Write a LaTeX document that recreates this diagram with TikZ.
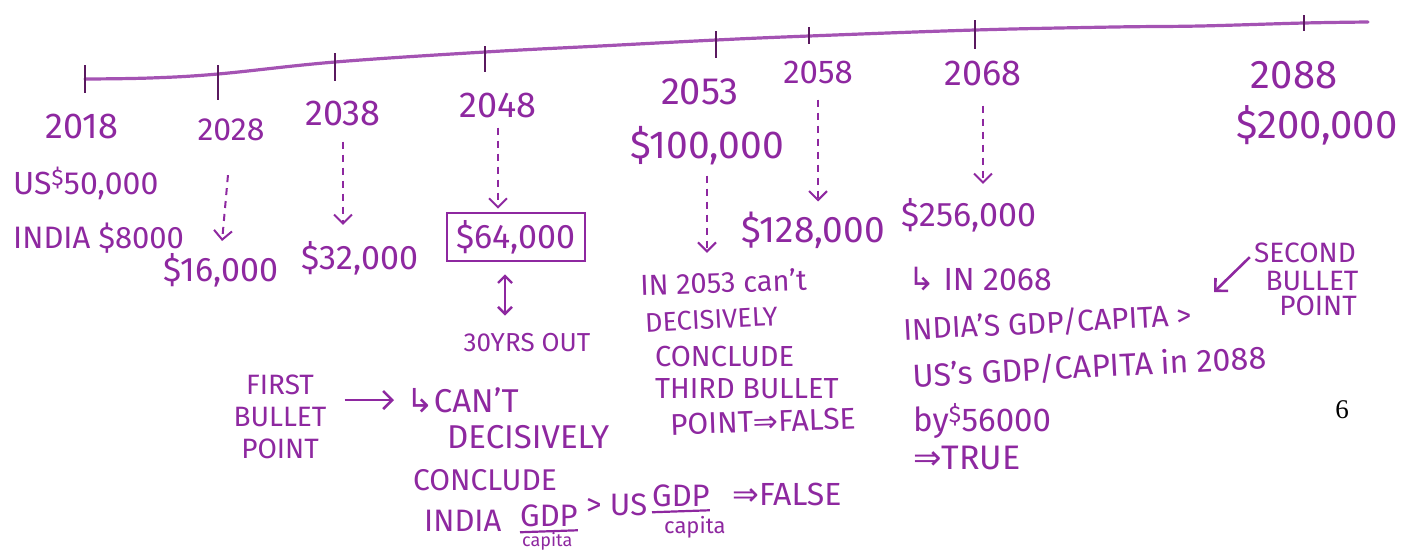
\documentclass[tikz,border=0pt]{standalone}
\usepackage{fontspec}
\setmainfont{Fira Sans}
\newfontfamily\sym{DejaVu Sans}
\newfontfamily\pgfont{Liberation Serif}
\usetikzlibrary{arrows.meta,calc}
\definecolor{ink}{RGB}{142,40,160}
\definecolor{tick}{RGB}{90,25,95}
\newcommand{\fs}[1]{\fontsize{#1}{#1}\selectfont}
\begin{document}
\begin{tikzpicture}[x=1pt,y=-1pt,
  hw/.style={text=ink,inner sep=0pt,font=\fs{31}},
  num/.style={text=ink,inner sep=0pt,font=\fs{34}},
  yr/.style={text=ink,inner sep=0pt,font=\fs{36}},
  dasharrow/.style={draw=ink,line width=2pt,dash pattern=on 7pt off 6pt,
    -{Straight Barb[length=9pt,width=18pt,line width=2pt]}},
  solidarrow/.style={draw=ink,line width=2.6pt,
    -{Straight Barb[length=9pt,width=18pt,line width=2.6pt]}},
  tickmark/.style={draw=tick,line width=2.4pt}]
\useasboundingbox (0,0) rectangle (1413,550);
% timeline
\draw[ink!80,line width=3.2pt,line cap=round] plot[smooth,tension=0.6] coordinates
  {(85,79) (150,78) (218,74) (335,62) (485,52) (600,46) (716,40) (809,36) (975,30) (1114,27) (1200,26) (1304,23) (1368,22)};
\foreach \x/\a/\b in {85/65/93, 218/65/100, 335/53/81, 485/46/72, 716/31/58, 809/27/44, 975/20/49, 1304/15/31}
  \draw[tickmark] (\x,\a) -- (\x,\b);
% years
\node[yr] (y2018) at (82,126) {2018};
\node[yr,font=\fs{32}] (y2028) at (231,130) {2028};
\node[yr] (y2038) at (343,113) {2038};
\node[yr] (y2048) at (498,105) {2048};
\node[yr,font=\fs{38}] (y2053) at (700,92) {2053};
\node[yr,font=\fs{33}] (y2058) at (818,72) {2058};
\node[yr] (y2068) at (983,73) {2068};
\node[yr,font=\fs{40}] (y2088) at (1294,75) {2088};
% values
\node[hw,anchor=west,font=\fs{32}] (us) at (13,183) {US\textsuperscript{\$}50,000};
\node[hw,anchor=west] (india) at (13,238) {INDIA \$8000};
\node[num] (v16) at (221,270) {\$16,000};
\node[num] (v32) at (360,258) {\$32,000};
\node[num,draw=ink,line width=2.6pt,minimum width=138pt,minimum height=48pt] (v64) at (516,237) {\$64,000};
\node[num,font=\fs{39}] (v100) at (707,146) {\$100,000};
\node[num,font=\fs{37}] (v128) at (813,230) {\$128,000};
\node[num] (v256) at (969,215) {\$256,000};
\node[num,font=\fs{40}] (v200) at (1317,125) {\$200,000};
% first bullet block
\node[hw,font=\fs{26}] (yrs) at (527,343) {30YRS OUT};
\node[hw,align=center,font=\fs{28}] (fbp) at (280,417) {FIRST\\[4pt]BULLET\\[4pt]POINT};
\node[hw,anchor=west,font=\fs{33}] (cant) at (406,400) {{\sym ↳}CAN'T};
\node[hw,anchor=west,font=\fs{33}] (dec1) at (447,437) {DECISIVELY};
\node[hw,anchor=west,font=\fs{30}] (conc1) at (413,480) {CONCLUDE};
\node[hw,anchor=west] (ind1) at (424,521) {INDIA};
\node[hw,anchor=west] (gdp1) at (520,516) {GDP};
\node[hw,anchor=west,font=\fs{18}] (cap1) at (522,541) {capita};
\node[hw,anchor=west] (gt) at (586,505) {> US};
\node[hw,anchor=west] (gdp2) at (652,496) {GDP};
\node[hw,anchor=west,font=\fs{22}] (cap2) at (664,527) {capita};
\node[hw,anchor=west,font=\fs{32}] (false1) at (732,494) {{\sym ⇒}FALSE};
% third bullet block
\node[hw,anchor=west,rotate=2,font=\fs{29}] (in2053) at (640,285) {IN 2053 can't};
\node[hw,anchor=west,rotate=3,font=\fs{27}] (dec2) at (645,323) {DECISIVELY};
\node[hw,anchor=west,font=\fs{29}] (conc2) at (655,356) {CONCLUDE};
\node[hw,anchor=west,font=\fs{29}] (third) at (655,389) {THIRD BULLET};
\node[hw,anchor=west,rotate=2,font=\fs{30}] (false2) at (670,425) {POINT{\sym ⇒}FALSE};
% second bullet block
\node[hw,anchor=west,font=\fs{32}] (in2068) at (908,279) {{\sym ↳} IN 2068};
\node[hw,anchor=west,rotate=3,font=\fs{30}] (ind3) at (903,330) {INDIA'S GDP/CAPITA >};
\node[hw,anchor=west,rotate=3,font=\fs{32}] (us3) at (913,376) {US's GDP/CAPITA in 2088};
\node[hw,anchor=west,font=\fs{33}] (by) at (913,421) {by\textsuperscript{\$}56000};
\node[hw,anchor=west,font=\fs{34}] (true) at (913,458) {{\sym ⇒}TRUE};
\node[hw,font=\fs{28}] (sec) at (1305,253) {SECOND};
\node[hw,font=\fs{28}] (bul) at (1312,281) {BULLET};
\node[hw,font=\fs{28}] (pnt) at (1318,306) {POINT};
\coordinate (sbpend) at (1214,292);
% page number
\node[inner sep=0pt,font=\pgfont\fs{27}] (pg) at (1342,410) {6};
% dashed arrows
\draw[dasharrow,shorten <=34pt,shorten >=12pt] (y2028.south) -- (v16.north);
\draw[dasharrow,shorten <=16pt,shorten >=16pt] (y2038.south) -- (y2038.south |- v32.north);
\draw[dasharrow,shorten <=10pt,shorten >=3pt] (y2048.south) -- (y2048.south |- v64.north);
\draw[dasharrow,shorten <=10pt,shorten >=18pt] (v100.south) -- (v100.south |- in2053.north);
\draw[dasharrow,shorten <=16pt,shorten >=10pt] (y2058.south) -- (y2058.south |- v128.north);
\draw[dasharrow,shorten <=20pt,shorten >=14pt] (y2068.south) -- (y2068.south |- v256.north);
% solid arrows
\coordinate (da1) at ($(v64.south)+(-11,0)$);
\coordinate (da2) at (da1 |- yrs.north);
\draw[draw=ink,line width=2.4pt,{Straight Barb[length=7pt,width=14pt,line width=2.4pt]}-{Straight Barb[length=7pt,width=14pt,line width=2.4pt]},shorten <=12pt,shorten >=18pt]
  (da1) -- (da2);
\draw[solidarrow,shorten <=18pt,shorten >=12pt] (fbp.east |- cant.west) -- (cant.west);
\draw[solidarrow,shorten <=6pt] (sec.west) -- (sbpend);
% underlines
\draw[ink,line width=2.2pt] ($(gdp1.south west)+(0,5)$) -- ($(gdp1.south east)+(0,3)$);
\draw[ink,line width=2.2pt] ($(gdp2.south west)+(0,5)$) -- ($(gdp2.south east)+(0,3)$);
\end{tikzpicture}
\end{document}
